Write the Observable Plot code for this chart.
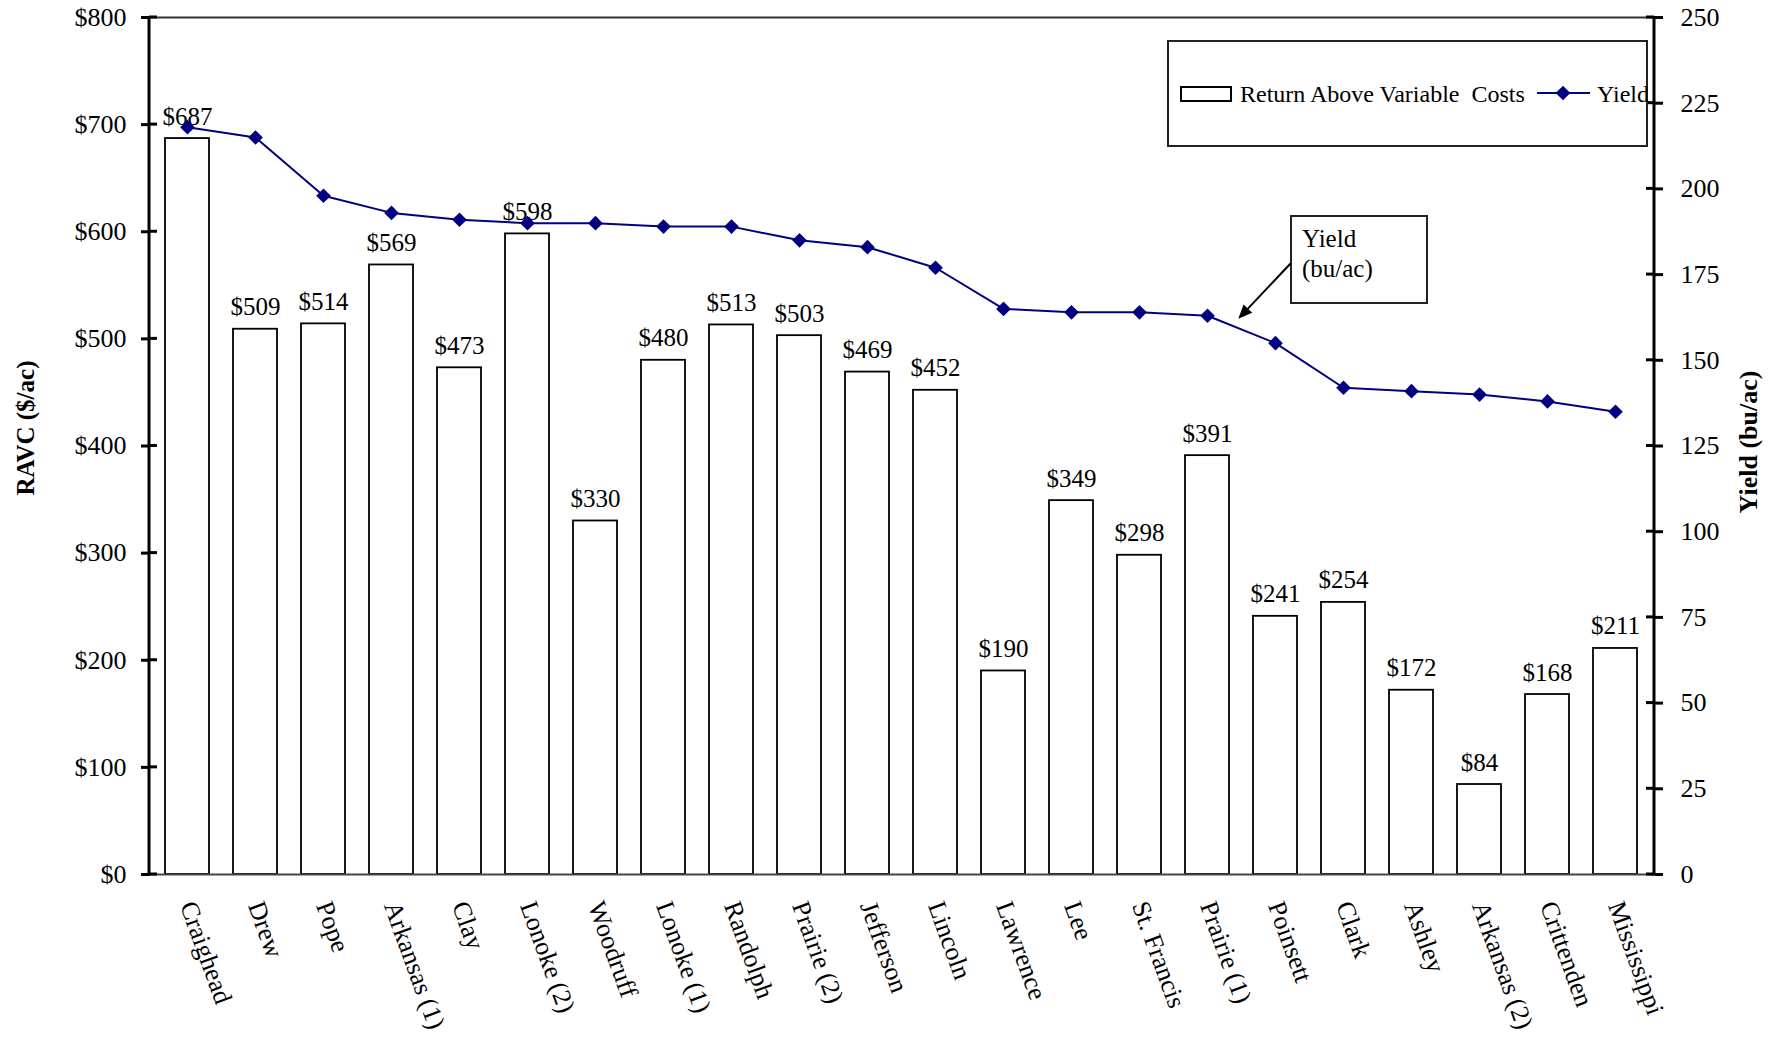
<!DOCTYPE html>
<html><head><meta charset="utf-8">
<script src="https://cdn.jsdelivr.net/npm/d3@7"></script>
<script src="https://cdn.jsdelivr.net/npm/@observablehq/plot@0.6"></script>
<style>
body{margin:0;background:#fff;}
#wrap{position:relative;width:1786px;height:1040px;}
</style></head><body><div id="wrap"></div>
<script>
const counties = ["Craighead","Drew","Pope","Arkansas (1)","Clay","Lonoke (2)","Woodruff","Lonoke (1)","Randolph","Prairie (2)","Jefferson","Lincoln","Lawrence","Lee","St. Francis","Prairie (1)","Poinsett","Clark","Ashley","Arkansas (2)","Crittenden","Mississippi"];
const ravc = [687,509,514,569,473,598,330,480,513,503,469,452,190,349,298,391,241,254,172,84,168,211];
const yieldBu = [218,215,198,193,191,190,190,189,189,185,183,177,165,164,164,163,155,142,141,140,138,135];
const ravcTicks = [0,100,200,300,400,500,600,700,800];
const yieldTicks = [0,25,50,75,100,125,150,175,200,225,250];
const legendLabels = ["Return Above Variable  Costs","Yield"];
const annotationLines = ["Yield","(bu/ac)"];
const leftTitle = "RAVC ($/ac)";
const rightTitle = "Yield (bu/ac)";

const k = 800/250; // yield -> RAVC units
const data = counties.map((c,i)=>({county:c, ravc:ravc[i], yld:yieldBu[i]}));
const FONT = "'Liberation Serif','Times New Roman',serif";
const NAVY = "#000080";

const W = 1786, H = 1040, ML = 149, MR = 132, MT = 17, MB = 166;

const plot = Plot.plot({
  width: W, height: H,
  marginLeft: ML, marginRight: MR, marginTop: MT, marginBottom: MB,
  style: {fontFamily: FONT, background: "white", color: "black"},
  x: {domain: counties, paddingInner: 0.35, paddingOuter: 0.16, label: null},
  y: {domain: [0, 800], label: null},
  marks: [
    Plot.barY(data, {x: "county", y: "ravc", fill: "white", stroke: "black", strokeWidth: 1.8}),
    Plot.ruleY([0], {stroke: "#444", strokeWidth: 2}),
    Plot.ruleY([800], {stroke: "#333", strokeWidth: 2}),
    Plot.text(data, {x: "county", y: "ravc", text: d => "$" + d.ravc, dy: -14, lineAnchor: "bottom", fontSize: 25, fill: "black"}),
    Plot.line(data, {x: "county", y: d => d.yld * k, stroke: NAVY, strokeWidth: 2}),
    Plot.dot(data, {x: "county", y: d => d.yld * k, symbol: "diamond2", r: 6.6, fill: NAVY, stroke: "none"}),
    Plot.axisY({ticks: ravcTicks, tickFormat: d => "$" + d, tickSize: 8, tickPadding: 15, fontSize: 26, strokeWidth: 3, label: null}),
    Plot.axisY({anchor: "right", ticks: yieldTicks.map(v => v * k), tickFormat: d => String(Math.round(d / k)), tickSize: 8, tickPadding: 18, fontSize: 26, strokeWidth: 3, label: null}),
    Plot.axisX({tickRotate: 70, tickSize: 0, tickPadding: 28, fontSize: 26, label: null})
  ]
});
document.getElementById("wrap").appendChild(plot);

const svg = d3.select(plot);
const xs = plot.scale("x"), ys = plot.scale("y");
const x0 = ML, x1 = W - MR, yTop = ys.apply(800), yBot = ys.apply(0);
const g = svg.append("g").attr("text-anchor", "start");

// axis lines
g.append("line").attr("x1", x0).attr("x2", x0).attr("y1", yTop - 1).attr("y2", yBot + 1.5).attr("stroke", "black").attr("stroke-width", 3);
g.append("line").attr("x1", x1).attr("x2", x1).attr("y1", yTop - 1).attr("y2", yBot + 1.5).attr("stroke", "black").attr("stroke-width", 3);
// inward tick halves
ravcTicks.forEach(v => {
  const y = ys.apply(v);
  g.append("line").attr("x1", x0).attr("x2", x0 + 8).attr("y1", y).attr("y2", y).attr("stroke", "black").attr("stroke-width", 3);
});
yieldTicks.forEach(v => {
  const y = ys.apply(v * k);
  g.append("line").attr("x1", x1 - 8).attr("x2", x1).attr("y1", y).attr("y2", y).attr("stroke", "black").attr("stroke-width", 3);
});

// axis titles
g.append("text").attr("transform", `translate(34,428) rotate(-90)`)
  .attr("text-anchor", "middle").attr("font-family", FONT).attr("font-weight", "bold").attr("font-size", 25).text(leftTitle);
g.append("text").attr("transform", `translate(1757,442) rotate(-90)`)
  .attr("text-anchor", "middle").attr("font-family", FONT).attr("font-weight", "bold").attr("font-size", 26).text(rightTitle);

// legend
const lx = 1168, ly = 41, lw = 479, lh = 105;
g.append("rect").attr("x", lx).attr("y", ly).attr("width", lw).attr("height", lh).attr("fill", "white").attr("stroke", "#222").attr("stroke-width", 2);
g.append("rect").attr("x", lx + 13).attr("y", ly + 46).attr("width", 50).attr("height", 14).attr("fill", "white").attr("stroke", "black").attr("stroke-width", 2);
g.append("text").attr("x", lx + 72).attr("y", ly + 61).attr("text-anchor", "start").attr("font-family", FONT).attr("font-size", 24).text(legendLabels[0]);
g.append("line").attr("x1", lx + 369).attr("x2", lx + 422).attr("y1", ly + 52).attr("y2", ly + 52).attr("stroke", NAVY).attr("stroke-width", 2);
g.append("path").attr("d", d3.symbol(d3.symbolDiamond2, Math.pow(6.6, 2) * Math.PI)()).attr("transform", `translate(${lx + 395},${ly + 52})`).attr("fill", NAVY);
g.append("text").attr("x", lx + 429).attr("y", ly + 61).attr("text-anchor", "start").attr("font-family", FONT).attr("font-size", 24).text(legendLabels[1]);

// annotation
const bx = 1291, by = 216, bw = 136, bh = 87;
g.append("rect").attr("x", bx).attr("y", by).attr("width", bw).attr("height", bh).attr("fill", "white").attr("stroke", "#222").attr("stroke-width", 2);
annotationLines.forEach((t, i) => g.append("text").attr("x", bx + 11).attr("y", by + 31 + i * 30).attr("text-anchor", "start").attr("font-family", FONT).attr("font-size", 25).text(t));
const iP = counties.indexOf("Prairie (1)");
const step = xs.step, bwid = xs.bandwidth;
const tipX = xs.apply(counties[iP]) + bwid / 2 + step * 0.46;
const tipY = ys.apply((yieldBu[iP] + (yieldBu[iP + 1] - yieldBu[iP]) * 0.46) * k) - 9;
const sx = bx, sy = by + 47;
const ang = Math.atan2(tipY - sy, tipX - sx);
const hl = 14, hw = 6;
const baseX = tipX - hl * Math.cos(ang), baseY = tipY - hl * Math.sin(ang);
g.append("line").attr("x1", sx).attr("y1", sy).attr("x2", baseX).attr("y2", baseY).attr("stroke", "black").attr("stroke-width", 2);
g.append("path").attr("d", `M${tipX},${tipY}L${baseX - hw * Math.sin(ang)},${baseY + hw * Math.cos(ang)}L${baseX + hw * Math.sin(ang)},${baseY - hw * Math.cos(ang)}Z`).attr("fill", "black");
</script></body></html>
